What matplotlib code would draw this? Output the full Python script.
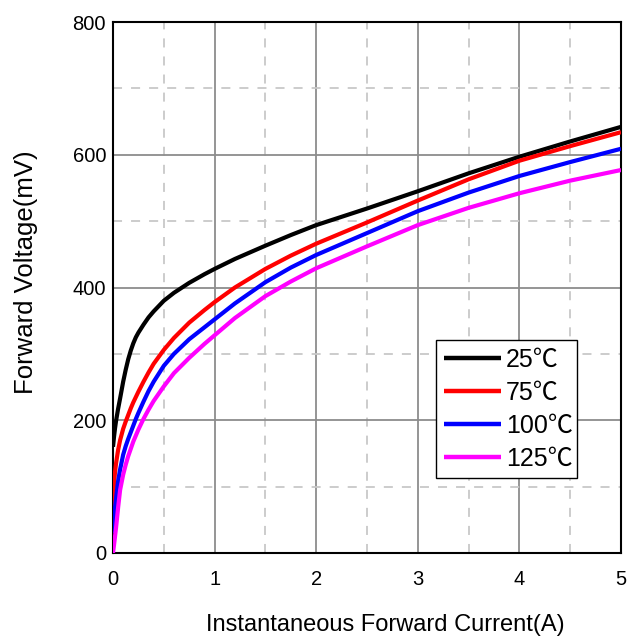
import matplotlib
matplotlib.use("Agg")
import matplotlib.pyplot as plt

current_a = [0, 0.01, 0.02, 0.03, 0.05, 0.07, 0.1, 0.125, 0.15, 0.175, 0.2,
             0.225, 0.25, 0.3, 0.35, 0.4, 0.5, 0.6, 0.75, 0.9, 1.0, 1.2, 1.5,
             1.75, 2.0, 2.5, 3.0, 3.5, 4.0, 4.5, 5.0]
vf_25c = [160, 175, 188, 199, 217, 233, 258, 276, 292, 305, 316,
          325, 332, 344, 355, 364, 380, 392, 407, 420, 428, 443, 463,
          479, 494, 519, 545, 572, 597, 620, 642]
vf_75c = [70, 105, 122, 135, 155, 170, 187, 198, 208, 218, 227,
          235, 243, 258, 272, 285, 306, 324, 347, 366, 378, 400, 428,
          448, 466, 498, 531, 563, 591, 613, 634]
vf_100c = [30, 50, 68, 82, 108, 126, 148, 161, 172, 182, 192,
           202, 211, 228, 244, 258, 282, 300, 322, 340, 352, 376, 408,
           430, 449, 482, 515, 543, 568, 589, 609]
vf_125c = [0, 12, 25, 38, 68, 95, 118, 133, 146, 157, 168,
           177, 186, 202, 216, 229, 251, 271, 294, 315, 328, 354, 387,
           409, 429, 462, 494, 520, 542, 561, 577]

series_labels = ["25℃", "75℃", "100℃", "125℃"]
series_colors = ["#000000", "#ff0000", "#0000ff", "#ff00ff"]
x_ticks = [0, 1, 2, 3, 4, 5]
y_ticks = [0, 200, 400, 600, 800]

fam = ["Liberation Sans", "Noto Sans CJK SC", "DejaVu Sans"]
plt.rcParams["font.family"] = fam

fig = plt.figure(figsize=(6.43, 6.39), dpi=100)
ax = fig.add_axes([113 / 643, 1 - 553 / 639, 508 / 643, 531 / 639])

for vals, lab, col in zip([vf_25c, vf_75c, vf_100c, vf_125c], series_labels, series_colors):
    ax.plot(current_a, vals, color=col, lw=3.0, label=lab, solid_capstyle="butt",
            solid_joinstyle="round", zorder=3)

ax.set_xlim(0, 5)
ax.set_ylim(0, 800)
ax.set_xticks(x_ticks)
ax.set_yticks(y_ticks)
ax.set_xticks([0.5, 1.5, 2.5, 3.5, 4.5], minor=True)
ax.set_yticks([100, 300, 500, 700], minor=True)
ax.grid(True, which="major", color="#8c8c8c", lw=1.3, ls="-", zorder=1)
ax.grid(True, which="minor", color="#c8c8c8", lw=1.3, ls=(0, (5, 5)), zorder=1)
ax.tick_params(which="both", length=0)
ax.tick_params(axis="y", pad=5, labelsize=14.5)
ax.tick_params(axis="x", pad=12, labelsize=14.5)
for s in ax.spines.values():
    s.set_color("#000000")
    s.set_linewidth(1.5)

fig.text(385 / 643, 1 - 625 / 639, "Instantaneous Forward Current(A)",
         family=fam, fontsize=17, ha="center", va="center")
fig.text(26 / 643, 1 - 272 / 639, "Forward Voltage(mV)",
         family=fam, fontsize=18.5, ha="center", va="center", rotation=90)

leg = ax.legend(loc="lower left",
                bbox_to_anchor=((436 - 113) / 508, (553 - 478) / 531,
                                (577 - 436) / 508, (478 - 338) / 531),
                mode="expand", borderaxespad=0, handlelength=2.3,
                prop={"family": fam, "size": 18},
                handletextpad=0.2, labelspacing=0.36, borderpad=0.3,
                fancybox=False, framealpha=1, edgecolor="#000000")
leg.get_frame().set_linewidth(1.0)
for line in leg.get_lines():
    line.set_linewidth(3.2)

fig.savefig("out.png", dpi=100)
